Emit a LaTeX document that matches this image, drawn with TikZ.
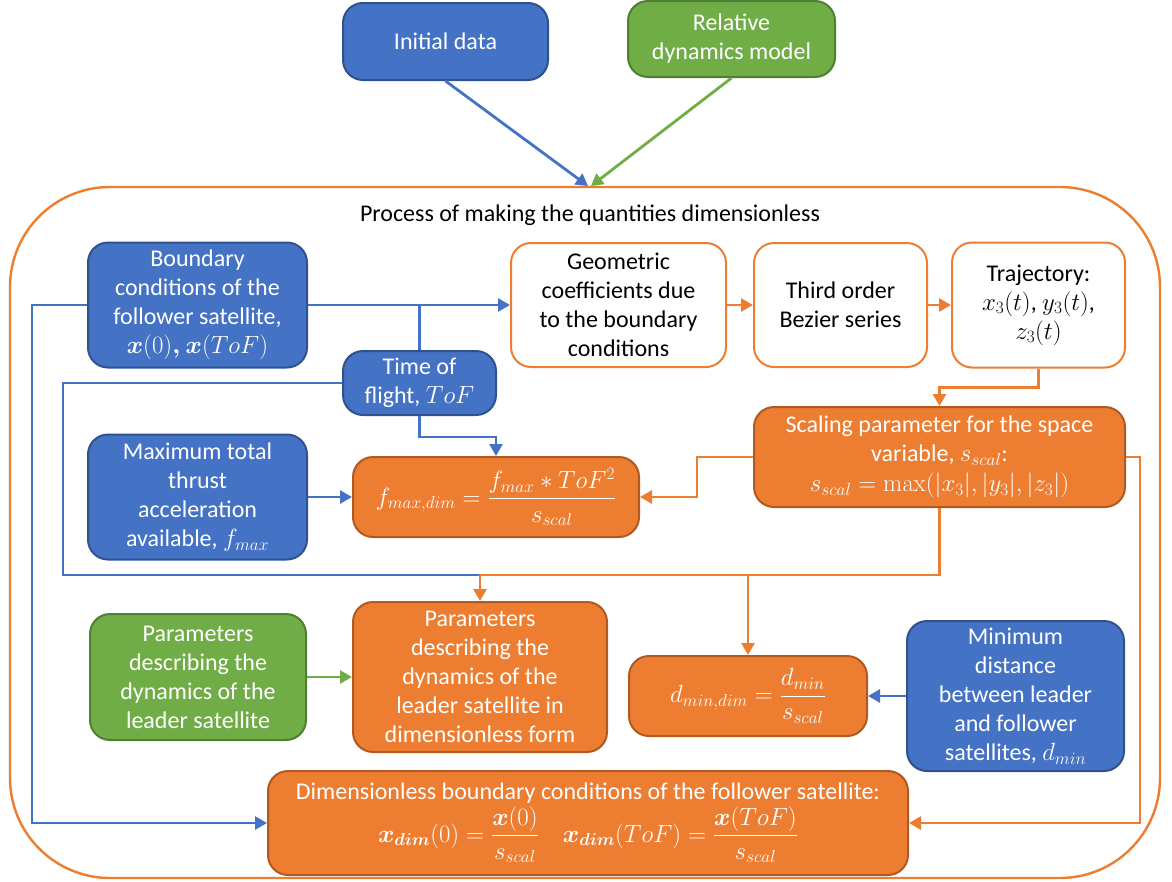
\documentclass[tikz,border=0pt]{standalone}
\usepackage{amsmath}
\usepackage[no-math]{fontspec}
\setmainfont{Carlito}
\usetikzlibrary{arrows.meta}
\definecolor{bfill}{HTML}{4472C4}
\definecolor{bdraw}{HTML}{2F528F}
\definecolor{ofill}{HTML}{ED7D31}
\definecolor{odraw}{HTML}{AE5A21}
\definecolor{gfill}{HTML}{70AD47}
\definecolor{gdraw}{HTML}{507E32}
\begin{document}
\begin{tikzpicture}[x=1pt,y=-1pt,
  every node/.style={font=\fontsize{24}{29}\selectfont, align=center, inner sep=0pt},
  box/.style={rounded corners=20pt, line width=2pt},
  bluebox/.style={box, fill=bfill, draw=bdraw, text=white},
  orangebox/.style={box, fill=ofill, draw=odraw, text=white},
  greenbox/.style={box, fill=gfill, draw=gdraw, text=white},
  whitebox/.style={box, fill=white, draw=ofill, text=black},
  sz/.style 2 args={minimum width=#1pt, minimum height=#2pt},
  conn/.style={line width=2.8pt},
  tip/.style={-{Triangle[length=12pt,width=13pt]}},
  bl/.style={conn, draw=bfill},
  og/.style={conn, draw=ofill},
  gr/.style={conn, draw=gfill}]
\useasboundingbox (0,0) rectangle (1172,881);

% outer frame
\draw[ofill, line width=2.4pt, rounded corners=100pt] (10,187) rectangle (1160,878);
\node (title) at (590,215) {Process of making the quantities dimensionless};
\coordinate (inA) at (588,186);
\coordinate (inB) at (591,186);

% top nodes
\node[bluebox, sz={205}{77}] (init) at (445.5,41.5) {Initial data};
\node[greenbox, sz={207}{76}] (rel) at (731.5,39) {Relative\\dynamics model};

% inner nodes
\node[bluebox, sz={219}{125}] (bnd) at (197.5,305) {Boundary\\conditions of the\\follower satellite,\\$\boldsymbol{x}(0)\boldsymbol{,}\ \boldsymbol{x}(ToF)$};
\node[bluebox, sz={153}{64}] (tof) at (419.5,383) {Time of\\flight, $ToF$};
\node[bluebox, sz={219}{125}] (fmx) at (197.5,497) {Maximum total\\thrust\\acceleration\\available, $f_{max}$};
\node[orangebox, sz={286}{80}] (fd) at (496,497) {$f_{max,dim}=\dfrac{f_{max}*ToF^2}{s_{scal}}$};
\node[whitebox, sz={215}{124}] (geo) at (618.5,305) {Geometric\\coefficients due\\to the boundary\\conditions};
\node[whitebox, sz={173}{124}] (bez) at (840.5,305) {Third order\\Bezier series};
\node[whitebox, sz={173}{125}] (traj) at (1038.5,305) {Trajectory:\\$x_3(t)$, $y_3(t)$,\\$z_3(t)$};
\node[orangebox, sz={371}{100}] (scal) at (939.5,457) {Scaling parameter for the space\\variable, $s_{scal}$:\\[1pt]$s_{scal}=\max(|x_3|,|y_3|,|z_3|)$};
\node[greenbox, sz={216}{126}] (pld) at (198,677) {Parameters\\describing the\\dynamics of the\\leader satellite};
\node[orangebox, sz={254}{150}] (pdl) at (480,677) {Parameters\\describing the\\dynamics of the\\leader satellite in\\dimensionless form};
\node[orangebox, sz={238}{80}] (dd) at (748,696) {$d_{min,dim}=\dfrac{d_{min}}{s_{scal}}$};
\node[bluebox, sz={217}{150}] (dmin) at (1015.5,696) {Minimum\\distance\\between leader\\and follower\\satellites, $d_{min}$};
\node[orangebox, sz={640}{104}] (dim) at (588,823) {Dimensionless boundary conditions of the follower satellite:\\[2pt]
  $\boldsymbol{x}_{\boldsymbol{dim}}(0)=\dfrac{\boldsymbol{x}(0)}{s_{scal}}\quad \boldsymbol{x}_{\boldsymbol{dim}}(ToF)=\dfrac{\boldsymbol{x}(ToF)}{s_{scal}}$};

% junction coordinates
\coordinate (jL) at (480,575);
\coordinate (jR) at (748,575);

% top arrows
\draw[bl, tip] (init.south) -- (inA);
\draw[gr, tip] (rel.south) -- (inB);

% blue connectors
\draw[bl, tip] (bnd.east) -- (geo.west);
\draw[bl] (tof.north) -- (tof.north |- bnd.east);
\draw[bl, tip] (tof.south) -- ++(0,21) -| (fd.north);
\draw[bl] (tof.west) -| (63,575) -- (jL);
\draw[bl, tip] (bnd.west) -| (32,823) -- (dim.west);
\draw[bl, tip] (fmx.east) -- (fd.west);
\draw[bl, tip] (dmin.west) -- (dd.east);

% orange connectors
\draw[og, tip] (geo.east) -- (bez.west);
\draw[og, tip] (bez.east) -- (traj.west);
\draw[og, tip] (traj.south) -- ++(0,19) -| (scal.north);
\draw[og, tip] (scal.west) -| (697,497) -- (fd.east);
\draw[og, tip] (scal.east) -| (1140,823) -- (dim.east);
\draw[og] (scal.south) |- (jL);
\draw[og, tip] (jL) -- (pdl.north);
\draw[og, tip] (jR) -- (dd.north);

% green connector
\draw[gr, tip] (pld.east) -- (pdl.west);
\end{tikzpicture}
\end{document}
